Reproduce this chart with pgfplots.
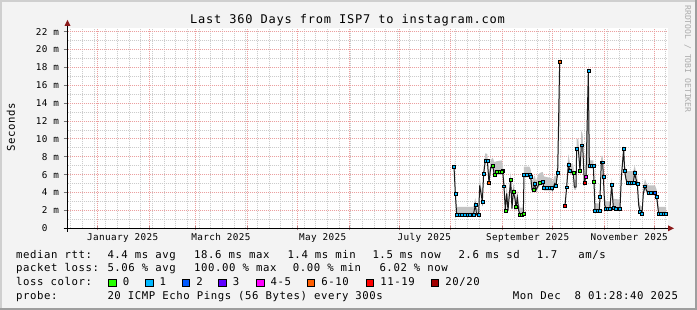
\documentclass[border=0pt]{standalone}
\usepackage{pgfplots}
\pgfplotsset{compat=1.18}
\usepackage{pgfplotstable}
\usepackage{fontspec}
\newfontfamily\legfam[LetterSpace=5.4]{DejaVu Sans Mono}
\newfontfamily\axfam[LetterSpace=4.0]{DejaVu Sans Mono}
\newfontfamily\titfam[LetterSpace=6.5]{DejaVu Sans Mono}
\newfontfamily\wmfam{DejaVu Sans Mono}
\newcommand\legfont{\legfam\fontsize{10.67pt}{12pt}\selectfont}
\newcommand\axfont{\axfam\fontsize{9.33pt}{11pt}\selectfont}
\newcommand\titfont{\titfam\fontsize{12pt}{14pt}\selectfont}
\newcommand\wmfont{\wmfam\fontsize{8.1pt}{9pt}\selectfont}

\definecolor{bg}{HTML}{F3F3F3}
\definecolor{shadeA}{HTML}{CFCFCF}
\definecolor{shadeB}{HTML}{9E9E9E}
\definecolor{gridred}{HTML}{EBA0A0}
\definecolor{gridgrey}{HTML}{CCCCCC}
\definecolor{arrowred}{HTML}{8B1A1A}
\definecolor{smoke}{HTML}{C4C4C4}
\definecolor{wm}{HTML}{ABABAB}
\definecolor{lc0}{HTML}{26FF00}
\definecolor{lc1}{HTML}{00B8FF}
\definecolor{lc2}{HTML}{0059FF}
\definecolor{lc3}{HTML}{5E00FF}
\definecolor{lc4}{HTML}{FF00FF}
\definecolor{lc6}{HTML}{FF5E00}
\definecolor{lc11}{HTML}{FF0000}
\definecolor{lc20}{HTML}{A10000}

% day = days since 13 Dec 2024; med = median rtt (ms);
% lo = bottom of smoke (ms); w = smoke thickness (ms)
\pgfplotstableread{
day med lo w
231.9 6.9 6.5 1.1
232.7 3.9 3.6 1.0
233.5 1.5 1.3 1.1
238.5 1.5 1.3 1.1
243.5 1.5 1.3 1.1
244.7 2.6 2.3 1.1
245.5 1.5 1.3 0.9
246.7 1.5 1.3 0.9
247.3 4.8 4.5 1.1
248.9 3.0 2.7 1.1
249.7 6.1 5.8 1.1
250.7 7.6 7.3 1.1
251.9 7.6 7.3 1.0
252.9 5.1 4.8 1.1
253.9 6.8 6.5 1.1
255.1 7.0 6.7 1.2
256.1 6.0 5.7 1.7
257.5 6.3 6.0 1.5
260.5 6.3 6.0 1.6
261.1 6.4 6.1 1.1
261.9 4.7 4.4 1.1
262.7 2.0 1.8 1.0
263.5 3.9 3.6 1.3
264.3 2.0 1.8 1.0
265.9 5.4 5.1 1.2
266.7 2.2 2.0 1.0
267.5 4.1 3.8 1.2
268.5 3.3 3.0 1.1
269.1 2.4 2.1 1.1
269.9 3.4 3.1 1.1
270.7 2.0 1.8 1.0
271.5 1.5 1.3 1.0
273.5 1.6 1.4 0.9
273.9 6.0 5.7 1.2
277.1 6.0 5.7 1.2
277.9 5.8 5.5 1.1
278.7 4.3 4.0 1.3
279.5 4.3 4.0 1.6
280.3 5.0 4.7 1.2
281.1 4.3 4.0 1.3
282.5 4.8 4.5 1.5
283.5 5.1 4.8 1.4
285.1 5.2 4.9 1.4
285.9 4.5 4.2 1.6
290.5 4.5 4.2 1.4
291.1 4.3 4.0 1.2
292.3 5.0 4.7 1.2
293.1 4.8 4.5 1.3
294.1 6.2 5.9 1.5
295.3 18.6 12.0 6.9
295.6 nan 12.0 0.0
298.2 nan 2.3 0.0
298.5 2.5 2.3 0.6
299.5 4.6 4.3 1.1
300.5 7.1 6.8 1.5
301.5 6.4 6.1 1.2
303.5 6.2 5.9 1.2
304.1 4.6 4.3 1.1
305.1 4.6 4.3 1.1
305.5 8.9 8.6 1.4
306.5 8.9 8.6 1.4
307.5 6.4 6.1 1.2
308.3 9.3 9.0 2.0
309.1 9.3 9.0 1.5
310.1 5.1 4.8 1.1
311.1 5.8 5.5 0.9
312.5 17.6 7.5 10.8
313.1 7.0 6.7 0.9
315.5 7.0 6.7 0.9
315.9 5.2 4.9 1.0
316.5 2.0 1.8 1.0
319.1 2.0 1.8 1.0
319.5 3.5 3.2 1.1
320.3 7.4 7.1 1.0
321.1 7.4 7.1 1.0
321.5 5.8 5.5 1.1
322.3 2.6 2.3 1.1
323.1 2.2 2.0 1.0
325.5 2.2 2.0 1.0
326.5 4.9 4.6 1.0
327.5 2.3 2.1 1.2
331.5 2.2 2.0 1.2
332.3 5.6 5.3 1.1
333.7 8.9 8.6 0.7
334.3 6.4 6.1 1.1
335.1 5.5 5.2 1.3
335.9 5.1 4.8 1.6
339.5 5.1 4.8 1.6
340.3 6.2 5.9 1.1
341.1 5.5 5.2 1.1
341.9 5.0 4.7 1.1
342.7 2.6 2.3 1.1
343.5 1.9 1.7 0.9
344.7 1.6 1.4 1.0
345.5 3.9 3.6 1.1
346.5 4.7 4.4 1.1
347.5 4.2 3.9 1.1
348.5 4.0 3.7 1.1
351.5 4.0 3.7 1.1
352.5 4.0 3.7 1.1
353.5 3.5 3.2 1.1
354.7 1.6 1.4 1.0
359.1 1.6 1.4 1.0
}\rtt

\newcommand\lbox[3]{%
  \fill[#2] (#1,23) rectangle ++(8.4,8.4);
  \draw[black,line width=0.9pt] (#1+0.45,23.45) rectangle ++(7.5,7.5);
  \node[anchor=base west,inner sep=0pt,font=\legfont] at (#1+14.4,24.3) {#3};}
\newcommand\ltext[3]{\node[anchor=base west,inner sep=0pt,font=\legfont] at (#1,#2) {#3};}
\newcommand\xlab[2]{\node[anchor=base,inner sep=0pt,font=\axfont] at (#1,69.3) {#2};}

\begin{document}
\begin{tikzpicture}[x=1pt,y=1pt]
\fill[bg] (0,0) rectangle (697,310);
\fill[shadeA] (0,0) rectangle (2,310);
\fill[shadeA] (0,308) rectangle (697,310);
\fill[shadeB] (695,0) rectangle (697,310);
\fill[shadeB] (0,0) rectangle (697,2);

% canvas and grid (plot area 67.5..667.5 x 81.7..281.7; 360 days, 22.37 ms)
\fill[white] (67.5,81.7) rectangle (667.5,281.7);
\begin{scope}[line width=0.8pt, dash pattern=on 1pt off 1pt]
\foreach \d in {1.9,8.9,15.9,22.9,29.9,36.9,43.9,50.9,57.9,64.9,71.9,78.9,85.9,92.9,99.9,106.9,113.9,120.9,127.9,134.9,141.9,148.9,155.9,162.9,169.9,176.9,183.9,190.9,197.9,204.9,211.9,218.9,225.9,232.9,239.9,246.9,253.9,260.9,267.9,274.9,281.9,288.9,295.9,302.9,309.9,316.9,323.9,330.9,337.9,344.9,351.9,358.9}
  \draw[gridgrey] ({67.5+\d*5/3},81.7) -- ++(0,200);
\foreach \v in {1,3,...,21}
  \draw[gridgrey] (67.5,{81.7+\v*8.9406}) -- ++(600,0);
\foreach \d in {17.9,48.9,76.9,107.9,137.9,168.9,198.9,229.9,260.9,290.9,321.9,351.9}
  \draw[gridred] ({67.5+\d*5/3},81.7) -- ++(0,200);
\foreach \v in {2,4,...,22}
  \draw[gridred] (67.5,{81.7+\v*8.9406}) -- ++(600,0);
\end{scope}

\begin{axis}[
  at={(67.5pt,81.7pt)}, anchor=south west,
  scale only axis, width=600pt, height=200pt,
  xmin=0, xmax=360, ymin=0, ymax=22.37,
  axis line style={draw=none},
  xtick=\empty,
  ytick={0,2,...,22},
  yticklabels={0\phantom{\ m},2 m,4 m,6 m,8 m,10 m,12 m,14 m,16 m,18 m,20 m,22 m},
  major tick length=0pt, minor tick length=0pt,
  yticklabel style={font=\axfont, anchor=east, inner sep=0pt, xshift=-8.2pt},
  unbounded coords=jump,
  clip=true,
]
% smoke band: lo, then thickness w stacked on it
\addplot[draw=none, fill=none, stack plots=y, mark=none] table[x=day,y=lo]{\rtt};
\addplot[draw=none, fill=smoke, stack plots=y, mark=none] table[x=day,y=w]{\rtt} \closedcycle;
% median line
\addplot[black!90, line width=1pt, mark=none] table[x=day,y=med]{\rtt};
% loss colour markers on the median
\addplot[only marks, mark=square*, mark size=1.4pt, mark options={draw=none, fill=lc1}] coordinates {
(231.9,6.9) (232.7,3.9) (233.5,1.5) (235,1.5) (236.5,1.5) (238.5,1.5) (240,1.5) (241.5,1.5) (243.5,1.5) (244.7,2.6) (246.7,1.5) (248.9,3.0) (249.7,6.1) (250.7,7.6) (251.9,7.6) (261.1,6.4) (261.9,4.7) (273.9,6.0) (275.5,6.0) (277.1,6.0) (277.9,5.8) (280.3,5.0) (285.1,5.2) (285.9,4.5) (287.5,4.5) (289,4.5) (290.5,4.5) (293.1,4.8) (294.1,6.2) (299.5,4.6) (300.5,7.1) (301.5,6.4) (305.5,8.9) (308.3,9.3) (312.5,17.6) (313.1,7.0) (314.3,7.0) (315.5,7.0) (316.5,2.0) (317.8,2.0) (319.1,2.0) (319.5,3.5) (320.3,7.4) (321.1,7.4) (321.5,5.8) (323.1,2.2) (324.3,2.2) (325.5,2.2) (326.5,4.9) (327.5,2.3) (329,2.2) (330.5,2.2) (331.5,2.2) (333.7,8.9) (334.3,6.4) (335.9,5.1) (337,5.1) (338.2,5.1) (339.5,5.1) (340.3,6.2) (341.9,5.0) (343.5,1.9) (344.7,1.6) (346.5,4.7) (348.5,4.0) (350,4.0) (353.5,3.5) (354.7,1.6) (356,1.6) (357.5,1.6) (359.1,1.6)};
\addplot[only marks, mark=square*, mark size=1.4pt, mark options={draw=none, fill=lc0}] coordinates {
(255.1,7.0) (256.1,6.0) (257.5,6.3) (259,6.3) (260.5,6.3) (262.7,2.0) (265.9,5.4) (267.5,4.1) (269.1,2.4) (271.5,1.5) (272.5,1.5) (273.5,1.6) (279.5,4.3) (283.5,5.1) (303.5,6.2) (307.5,6.4) (315.9,5.2)};
\addplot[only marks, mark=square*, mark size=1.4pt, mark options={draw=none, fill=lc2}] coordinates {(351.5,4.0) (352.5,4.0)};
\addplot[only marks, mark=square*, mark size=1.4pt, mark options={draw=none, fill=lc6}] coordinates {(252.9,5.1) (295.3,18.6)};
\addplot[only marks, mark=square*, mark size=1.4pt, mark options={draw=none, fill=lc11}] coordinates {(298.5,2.5) (310.1,5.1)};
\addplot[only marks, mark=square*, mark size=1.4pt, mark options={draw=none, fill=lc4}] coordinates {(311.1,5.8)};
\end{axis}

% tick marks
\foreach \v in {0,2,...,22}
  \draw[black!55, line width=0.8pt] (63.5,{81.7+\v*8.9406}) -- (67.5,{81.7+\v*8.9406});
\foreach \d in {17.9,48.9,76.9,107.9,137.9,168.9,198.9,229.9,260.9,290.9,321.9,351.9}
  \draw[gridred!80!black, line width=0.8pt] ({67.5+\d*5/3},79.7) -- ++(0,4);

% axis lines and arrows
\draw[black, line width=1pt] (67.5,78) -- (67.5,285);
\fill[arrowred] (64.5,284) -- (70.5,284) -- (67.5,290) -- cycle;
\draw[black, line width=1pt] (63.5,81.7) -- (669,81.7);
\fill[arrowred] (668,78.7) -- (668,84.7) -- (674,81.7) -- cycle;

% month labels (mid-month)
\xlab{122.7}{January 2025}
\xlab{221}{March 2025}
\xlab{322.7}{May 2025}
\xlab{424.3}{July 2025}
\xlab{527.7}{September 2025}
\xlab{629.3}{November 2025}

% title, axis label, watermark
\node[anchor=base, inner sep=0pt, font=\titfont] at (347.5,286) {Last 360 Days from ISP7 to instagram.com};
\node[anchor=base, inner sep=0pt, rotate=90, font=\legfont] at (15,182.5) {Seconds};
\node[anchor=base, inner sep=0pt, rotate=-90, font=\wmfont, text=wm] at (685,251) {RRDTOOL / TOBI OETIKER};

% legend
\ltext{16}{51.7}{median rtt:}
\ltext{107.3}{51.7}{4.4 ms avg}
\ltext{194}{51.7}{18.6 ms max}
\ltext{287.3}{51.7}{1.4 ms min}
\ltext{372.3}{51.7}{1.5 ms now}
\ltext{458.3}{51.7}{2.6 ms sd}
\ltext{536.7}{51.7}{1.7\ \ \ am/s}
\ltext{16}{38}{packet loss:}
\ltext{107.3}{38}{5.06 \% avg}
\ltext{194}{38}{100.00 \% max}
\ltext{292.7}{38}{0.00 \% min}
\ltext{379.3}{38}{6.02 \% now}
\ltext{16}{24.3}{loss color:}
\lbox{108.3}{lc0}{0}
\lbox{145}{lc1}{1}
\lbox{181.7}{lc2}{2}
\lbox{218.3}{lc3}{3}
\lbox{256}{lc4}{4-5}
\lbox{306.7}{lc6}{6-10}
\lbox{365.7}{lc11}{11-19}
\lbox{430.7}{lc20}{20/20}
\ltext{16}{10.7}{probe:}
\ltext{107.3}{10.7}{20 ICMP Echo Pings (56 Bytes) every 300s}
\ltext{512.7}{10.7}{Mon Dec\ \ 8 01:28:40 2025}

\pgfresetboundingbox
\useasboundingbox (0,0) rectangle (697,310);
\end{tikzpicture}
\end{document}
